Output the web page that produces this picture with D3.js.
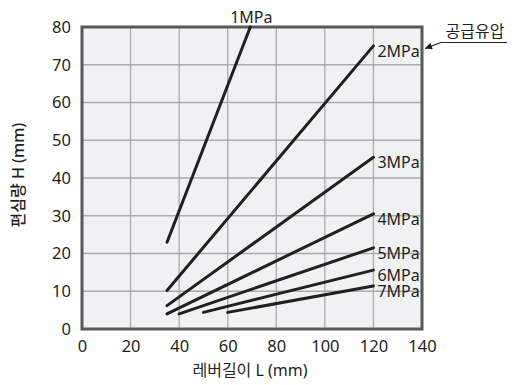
<!DOCTYPE html>
<html>
<head>
<meta charset="utf-8">
<script src="https://cdn.jsdelivr.net/npm/d3@7"></script>
<style>
  html, body { margin: 0; padding: 0; background: #fff; }
  svg { display: block; font-family: "Noto Sans", "Noto Sans CJK KR", sans-serif; }
</style>
</head>
<body>
<svg id="chart" width="514" height="385"></svg>
<script>
// Supply pressure series: lever length L (mm) vs. eccentric amount H (mm)
const pressures = ["1MPa", "2MPa", "3MPa", "4MPa", "5MPa", "6MPa", "7MPa"];
const leverStart = [35, 35, 35, 35, 40, 50, 60];
const leverEnd   = [69.3, 120, 120, 120, 120, 120, 120];
const offsetStart = [23, 10.2, 6.2, 4.0, 4.0, 4.4, 4.4];
const offsetEnd   = [80, 75, 45.5, 30.5, 21.5, 15.6, 11.4];

const xTicks = [0, 20, 40, 60, 80, 100, 120, 140];
const yTicks = [0, 10, 20, 30, 40, 50, 60, 70, 80];

const xTitle = "레버길이 L (mm)";
const yTitle = "편심량 H (mm)";
const supplyLabel = "공급유압";

const ink = "#231f20";
const svg = d3.select("#chart");
const m = { left: 82, right: 422, top: 27, bottom: 329 };

const x = d3.scaleLinear().domain([0, 140]).range([m.left, m.right]);
const y = d3.scaleLinear().domain([0, 80]).range([m.bottom, m.top]);

// plot background
svg.append("rect")
  .attr("x", m.left).attr("y", m.top)
  .attr("width", m.right - m.left).attr("height", m.bottom - m.top)
  .attr("fill", "#f0f1f3");

// grid
const grid = svg.append("g").attr("stroke", "#a9abad").attr("stroke-width", 1.3);
grid.selectAll("line.v").data(xTicks.slice(1, -1)).join("line")
  .attr("x1", d => x(d)).attr("x2", d => x(d))
  .attr("y1", m.top).attr("y2", m.bottom);
grid.selectAll("line.h").data(yTicks.slice(1, -1)).join("line")
  .attr("x1", m.left).attr("x2", m.right)
  .attr("y1", d => y(d)).attr("y2", d => y(d));

// axes (labels only, frame drawn separately)
const xAxis = svg.append("g")
  .attr("transform", `translate(0,${m.bottom})`)
  .call(d3.axisBottom(x).tickValues(xTicks).tickSize(0).tickPadding(11));
const yAxis = svg.append("g")
  .attr("transform", `translate(${m.left},0)`)
  .call(d3.axisLeft(y).tickValues(yTicks).tickSize(0).tickPadding(11));
[xAxis, yAxis].forEach(a => {
  a.select(".domain").remove();
  a.selectAll("text").attr("font-size", 16.5).attr("fill", ink)
    .attr("font-family", "\"Noto Sans\", sans-serif");
});

// frame
svg.append("rect")
  .attr("x", m.left).attr("y", m.top)
  .attr("width", m.right - m.left).attr("height", m.bottom - m.top)
  .attr("fill", "none").attr("stroke", "#58595b").attr("stroke-width", 3);

// pressure lines
const series = pressures.map((p, i) => ({
  name: p,
  pts: [[leverStart[i], offsetStart[i]], [leverEnd[i], offsetEnd[i]]]
}));
const line = d3.line().x(d => x(d[0])).y(d => y(d[1]));
svg.append("g").selectAll("path").data(series).join("path")
  .attr("d", d => line(d.pts))
  .attr("fill", "none").attr("stroke", ink).attr("stroke-width", 3)
  .attr("stroke-linecap", "round");

// pressure labels: hung just below each line's right end
svg.append("g").selectAll("text").data(series).join("text")
  .attr("x", (d, i) => i === 0 ? x(leverEnd[i]) + 1 : x(leverEnd[i]) + 4)
  .attr("y", (d, i) => i === 0 ? y(80) - 4.5 : y(offsetEnd[i]) + 11)
  .attr("text-anchor", (d, i) => i === 0 ? "middle" : "start")
  .attr("font-size", 16).attr("fill", ink)
  .text(d => d.name);

// supply pressure callout
svg.append("text")
  .attr("x", 475).attr("y", 37)
  .attr("text-anchor", "middle").attr("font-size", 16).attr("fill", ink)
  .attr("font-family", "\"Noto Sans CJK KR\", sans-serif")
  .text(supplyLabel);
svg.append("line")
  .attr("x1", 441).attr("x2", 507).attr("y1", 42.5).attr("y2", 42.5)
  .attr("stroke", ink).attr("stroke-width", 1.2);
svg.append("defs").append("marker")
  .attr("id", "arrow").attr("viewBox", "0 0 10 10")
  .attr("refX", 10).attr("refY", 5)
  .attr("markerWidth", 10).attr("markerHeight", 7)
  .attr("markerUnits", "userSpaceOnUse")
  .attr("orient", "auto")
  .append("path").attr("d", "M0,0L10,5L0,10z").attr("fill", ink);
svg.append("line")
  .attr("x1", 441).attr("y1", 42.5).attr("x2", 425).attr("y2", 48.5)
  .attr("stroke", ink).attr("stroke-width", 1.2)
  .attr("marker-end", "url(#arrow)");

// axis titles
svg.append("text")
  .attr("x", 250).attr("y", 376)
  .attr("text-anchor", "middle").attr("font-size", 16).attr("fill", ink)
  .text(xTitle);
svg.append("text")
  .attr("transform", `translate(24,${175}) rotate(-90)`)
  .attr("text-anchor", "middle").attr("font-size", 16).attr("fill", ink)
  .attr("font-weight", 500)
  .text(yTitle);
</script>
</body>
</html>
